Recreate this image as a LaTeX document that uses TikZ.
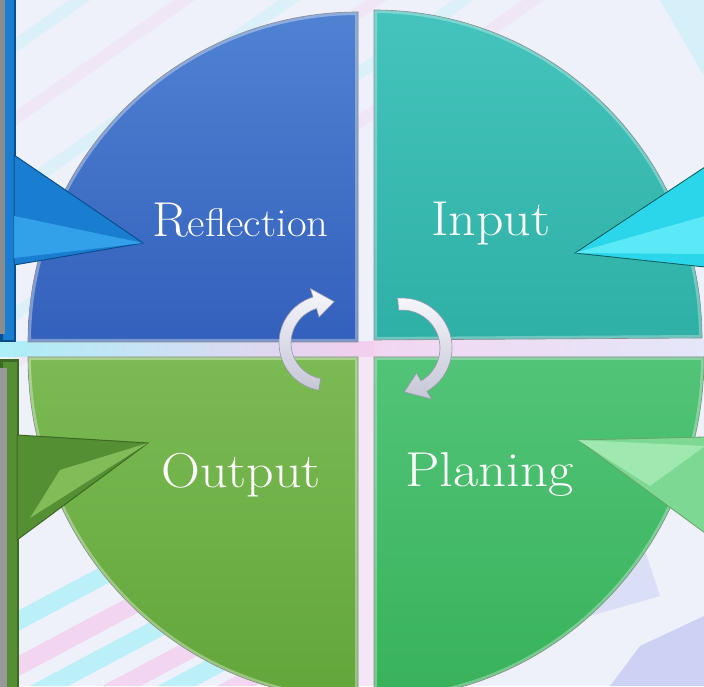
\documentclass[tikz,border=0pt]{standalone}
\usetikzlibrary{calc}
\definecolor{bgbase}{HTML}{EEF0FA}
\definecolor{bgpink}{HTML}{F6C6EC}
\definecolor{bgcyan}{HTML}{9CF0F8}
\definecolor{bgperi}{HTML}{AEB6F2}
\definecolor{blueA}{HTML}{5082D2}
\definecolor{blueB}{HTML}{3360BC}
\definecolor{tealA}{HTML}{44C4BC}
\definecolor{tealB}{HTML}{2FB0A6}
\definecolor{grnLA}{HTML}{7CBA54}
\definecolor{grnLB}{HTML}{62A63A}
\definecolor{grnRA}{HTML}{52C478}
\definecolor{grnRB}{HTML}{38B25A}
\definecolor{arBlue}{HTML}{1A7ED0}
\definecolor{arBlueL}{HTML}{3AAAF0}
\definecolor{arBlueD}{HTML}{0A4E90}
\definecolor{arCyan}{HTML}{2CD6EA}
\definecolor{arCyanL}{HTML}{70F2FF}
\definecolor{arGrn}{HTML}{558F34}
\definecolor{arGrnL}{HTML}{8CC862}
\definecolor{arGrnD}{HTML}{3C6A22}
\definecolor{arLG}{HTML}{7CD892}
\definecolor{arLGL}{HTML}{A8EEB8}
\definecolor{cycA}{HTML}{F6F6FC}
\definecolor{cycB}{HTML}{C6C6D6}
\definecolor{cycE}{HTML}{9A9AAE}
\tikzset{
  qlabel/.style={text=white, inner sep=0pt, font=\fontsize{49}{56}\selectfont},
  qedge/.style={draw=black!45, line width=0.6pt},
  cyc/.style={top color=cycA, bottom color=cycB, draw=cycE, line width=0.6pt},
  cycshadow/.style={fill=black, opacity=0.18},
}
\def\pTL{(358,344) -- (28,344) arc[start angle=180,end angle=90,radius=330] -- cycle}
\def\pTR{(374,346) -- (374,676) arc[start angle=90,end angle=0,radius=328] -- cycle}
\def\pBL{(358,329) -- (28,329) arc[start angle=180,end angle=270,x radius=330,y radius=342] -- cycle}
\def\pBR{(374,329) -- (374,-13) arc[start angle=270,end angle=360,x radius=330,y radius=342] -- cycle}
\begin{document}
\begin{tikzpicture}[x=1pt,y=1pt]
\useasboundingbox (0,0) rectangle (704,686);
\clip (0,0) rectangle (704,686);
% ---------- background ----------
\fill[bgbase] (0,0) rectangle (704,686);
\begin{scope}
  \clip (0,0) -- (330,0) -- (0,300) -- cycle;
  \begin{scope}[opacity=0.6]
  \foreach \o/\c in {0/bgcyan,30/bgpink,58/bgcyan,84/bgpink,118/bgcyan,150/bgpink,190/bgcyan}{
    \fill[\c, rotate around={28:(0,0)}] (-200,\o-150) rectangle (900,\o-132);
  }
  \end{scope}
\end{scope}
\begin{scope}[opacity=0.22]
  \foreach \o/\c in {0/bgpink,40/bgcyan,90/bgpink,140/bgcyan,200/bgpink,260/bgcyan}{
    \fill[\c, rotate around={35:(0,0)}] (200,\o+250) rectangle (900,\o+262);
  }
\end{scope}
\fill[bgperi, opacity=0.5] (640,40) -- (704,70) -- (704,0) -- (610,0) -- cycle;
\fill[bgperi, opacity=0.3] (560,120) -- (640,150) -- (660,90) -- (590,70) -- cycle;
\fill[bgcyan, opacity=0.3] (660,686) -- (704,686) -- (704,610) -- cycle;
% cross gap tint
\shade[left color=bgcyan, right color=bgpink, opacity=0.8] (0,329) rectangle (374,344);
\shade[left color=bgpink, right color=bgperi!40, opacity=0.6] (374,329) rectangle (704,346);
\fill[bgpink!60, opacity=0.5] (358,0) rectangle (374,329);
% ---------- quadrants ----------
\path[top color=blueA, bottom color=blueB] \pTL;
\begin{scope}\clip \pTL; \draw[white, opacity=0.35, line width=6pt] \pTL; \end{scope}
\draw[qedge] \pTL;
\path[top color=tealA, bottom color=tealB] \pTR;
\begin{scope}\clip \pTR; \draw[white, opacity=0.3, line width=6pt] \pTR; \end{scope}
\draw[qedge] \pTR;
\path[top color=grnLA, bottom color=grnLB] \pBL;
\begin{scope}\clip \pBL; \draw[white, opacity=0.35, line width=6pt] \pBL; \end{scope}
\draw[qedge] \pBL;
\path[top color=grnRA, bottom color=grnRB] \pBR;
\begin{scope}\clip \pBR; \draw[white, opacity=0.3, line width=6pt] \pBR; \end{scope}
\draw[qedge] \pBR;
% ---------- side callout arrows ----------
% top left (blue)
\fill[arBlueD] (-2,344) rectangle (16,688);
\fill[arBlue] (3,346) rectangle (14,688);
\fill[black!45] (0,352) rectangle (5,688);
\coordinate (tlA) at (14,531); \coordinate (tlT) at (143,443); \coordinate (tlB) at (14,421);
\fill[arBlue, draw=arBlueD, line width=1pt] (tlA) -- (tlT) -- (tlB) -- cycle;
\fill[arBlueL, opacity=0.8] (14,470) -- (tlT) -- (14,428) -- cycle;
% top right (cyan)
\coordinate (trA) at (705,519); \coordinate (trT) at (575,433); \coordinate (trB) at (705,419);
\fill[arCyan, draw=teal!70!black, line width=0.8pt] (trA) -- (trT) -- (trB) -- cycle;
\fill[arCyanL, opacity=0.7] (705,470) -- (trT) -- (705,432) -- cycle;
% bottom left (green)
\fill[arGrnD] (-2,-2) rectangle (19,327);
\fill[arGrn] (3,-2) rectangle (17,324);
\fill[black!40] (0,-2) rectangle (7,318);
\coordinate (blA) at (17,251); \coordinate (blT) at (148,243); \coordinate (blB) at (17,146);
\fill[arGrn, draw=arGrnD, line width=1pt] (blA) -- (blT) -- (blB) -- cycle;
\fill[arGrnL, opacity=0.8] (60,216) -- (blT) -- (30,168) -- cycle;
% bottom right (light green)
\coordinate (brA) at (705,249); \coordinate (brT) at (578,246); \coordinate (brB) at (705,153);
\fill[arLG, draw=green!40!black!60, line width=0.8pt] (brA) -- (brT) -- (brB) -- cycle;
\fill[arLGL, opacity=0.8] (705,240) -- (brT) -- (650,200) -- cycle;
% ---------- cycle arrows ----------
\coordinate (cL) at (327,343);
\coordinate (cR) at (402,338);
\def\pCL{([shift={(-100:48)}]cL) arc[start angle=-100,end angle=-253,radius=48]
   -- ([shift={(107:57)}]cL) -- ([shift={(80:42)}]cL) -- ([shift={(107:27)}]cL)
   -- ([shift={(107:36)}]cL) arc[start angle=107,end angle=260,radius=36] -- cycle}
\def\pCR{([shift={(95:50)}]cR) arc[start angle=95,end angle=-60,radius=50]
   -- ([shift={(-60:59)}]cR) -- ([shift={(-87:44)}]cR) -- ([shift={(-60:29)}]cR)
   -- ([shift={(-60:38)}]cR) arc[start angle=-60,end angle=95,radius=38] -- cycle}
\begin{scope}[xshift=2pt,yshift=-3pt]
  \fill[cycshadow] \pCL;
  \fill[cycshadow] \pCR;
\end{scope}
\path[cyc] \pCL;
\path[cyc] \pCR;
% ---------- labels ----------
\node[qlabel, anchor=base west] (reflection) at (152,449) {\scalebox{1.07}[1]{R\fontsize{40}{44}\selectfont eflection}};
\node[qlabel, anchor=base west] (input) at (431,450) {\scalebox{1.1}[1]{Input}};
\node[qlabel, anchor=base west] (output) at (161,199) {\scalebox{1.1}[1]{Output}};
\node[qlabel, anchor=base west] (planing) at (405,200) {\scalebox{1.12}[1]{Planing}};
\end{tikzpicture}
\end{document}
